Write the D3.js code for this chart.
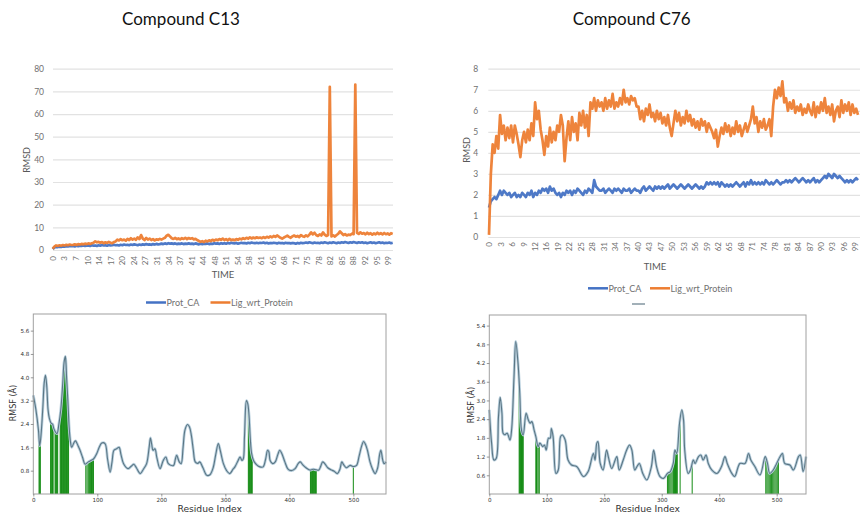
<!DOCTYPE html>
<html><head><meta charset="utf-8">
<script src="https://cdn.jsdelivr.net/npm/d3@7/dist/d3.min.js"></script>
<style>body{margin:0;background:#fff}svg{display:block}</style>
</head><body>
<svg id="c" width="860" height="512"></svg>
<script>
// ---------------- DATA ----------------
const timeStep = 0.5; // ns between samples (0..100)
const seriesNames = ["Prot_CA", "Lig_wrt_Protein"];

// Compound C13 RMSD
const c13Prot = [0.4,1.1,1.4,1.3,1.5,1.4,1.6,1.5,1.7,1.6,1.8,1.7,1.8,1.6,1.9,1.7,1.9,1.8,2.0,1.8,1.9,
 2.0,1.8,2.1,1.9,2.0,1.8,2.1,1.9,2.2,2.0,2.1,1.9,2.2,2.0,2.1,2.3,2.1,2.2,2.0,2.3,
 2.1,2.4,2.2,2.3,2.1,2.4,2.2,2.5,2.3,2.1,2.4,2.2,2.5,2.3,2.6,2.4,2.5,2.3,2.6,2.4,
 2.7,2.5,2.6,2.8,2.6,2.9,2.7,3.0,2.8,2.9,2.7,2.9,2.6,2.8,2.7,2.9,2.6,2.8,2.7,2.9,
 2.7,2.8,2.6,2.9,2.7,2.5,2.8,2.6,2.8,2.7,2.9,2.6,2.8,2.7,3.0,2.8,2.9,2.7,3.0,2.8,
 3.0,2.8,3.1,2.9,3.2,3.0,2.9,3.1,2.8,3.0,3.2,3.0,3.1,2.9,3.2,3.0,3.3,3.1,3.0,3.2,
 3.0,3.2,3.1,3.3,3.0,3.2,2.9,3.1,3.0,3.2,3.1,2.9,3.2,3.0,3.1,2.9,3.2,3.0,3.1,2.9,
 3.1,3.0,2.8,3.1,2.9,3.2,3.0,3.1,3.3,3.1,3.4,3.2,3.0,3.3,3.1,3.2,3.0,3.3,3.1,3.4,
 3.2,3.0,3.3,3.1,3.4,3.2,3.0,3.3,3.1,3.4,3.2,3.5,3.3,3.1,3.4,3.2,3.5,3.3,3.1,3.4,
 3.2,3.4,3.1,3.3,3.0,3.2,3.4,3.1,3.3,3.0,3.2,3.4,3.1,3.3,3.0,3.2,3.1,3.3,3.0,3.2];
const c13Lig = [0.5,1.5,2.0,1.8,2.1,1.9,2.2,2.0,2.3,2.1,2.4,2.2,2.3,2.5,2.2,2.6,2.4,2.7,2.5,2.8,2.6,
 2.9,2.7,3.0,3.2,3.8,3.4,3.6,3.2,3.5,3.0,3.4,3.1,3.6,3.2,3.0,3.5,3.8,4.6,4.2,4.8,
 4.3,4.6,4.1,4.9,4.4,5.2,4.6,5.0,4.5,5.6,4.8,6.6,5.0,4.4,5.3,4.6,5.0,4.4,4.8,4.2,
 4.7,4.5,4.9,4.6,5.0,5.4,6.3,6.7,6.0,5.2,4.9,5.3,4.8,5.1,4.7,5.2,4.9,5.4,4.8,5.3,
 5.0,5.2,4.7,4.9,4.4,4.0,3.6,3.9,3.5,4.1,3.8,4.3,3.9,4.5,4.1,4.6,4.3,4.8,4.5,5.0,
 4.4,4.8,4.3,4.9,4.4,4.6,4.3,4.8,4.5,5.0,4.7,5.2,4.9,5.4,5.0,5.6,5.1,5.5,5.2,5.6,
 5.3,5.5,5.2,5.7,5.3,5.8,5.5,6.0,5.6,6.2,5.8,6.4,5.9,5.4,5.0,5.5,5.9,6.3,5.8,5.4,
 6.0,6.4,5.9,6.2,5.7,6.6,6.1,5.8,6.5,6.0,6.8,7.8,6.9,7.6,6.6,6.2,6.9,6.4,7.8,6.8,
 6.2,6.6,72.0,6.0,6.5,5.9,6.6,7.2,8.2,7.4,6.6,7.0,6.4,6.8,6.6,7.2,7.0,73.0,7.6,7.1,
 7.8,7.2,7.5,6.9,7.6,7.0,7.4,6.8,7.3,6.9,7.6,7.0,7.4,6.9,7.5,7.0,7.3,6.8,7.4,7.1];
const c13YTicks = [0,10,20,30,40,50,60,70,80];
const c13XLabels = [0,3,7,10,14,17,20,24,27,31,34,37,41,44,48,51,54,58,61,65,68,71,75,78,82,85,88,92,95,99];
const c13XLabelStep = 3.4;

// Compound C76 RMSD
const c76Prot = [1.4,1.7,1.8,1.9,1.8,2.0,2.2,2.0,2.2,2.1,2.0,2.1,1.9,2.0,2.1,1.9,2.0,1.9,2.1,2.0,1.9,
 2.1,2.0,2.2,1.9,2.1,2.0,2.2,2.1,2.3,2.2,2.3,2.1,2.4,2.2,2.3,2.1,2.0,2.1,1.9,2.1,
 2.0,2.2,2.1,2.2,2.0,2.2,2.1,2.3,2.2,2.1,2.0,2.2,2.1,2.3,2.2,2.1,2.7,2.4,2.3,2.2,
 2.2,2.3,2.1,2.2,2.3,2.2,2.1,2.3,2.2,2.3,2.2,2.1,2.3,2.2,2.2,2.3,2.1,2.2,2.3,2.2,
 2.2,2.1,2.3,2.4,2.2,2.3,2.4,2.3,2.2,2.4,2.3,2.4,2.3,2.4,2.3,2.4,2.5,2.3,2.4,2.5,
 2.4,2.3,2.4,2.5,2.4,2.3,2.4,2.5,2.4,2.3,2.4,2.5,2.4,2.3,2.4,2.3,2.4,2.6,2.5,2.6,
 2.5,2.6,2.5,2.6,2.4,2.6,2.5,2.4,2.5,2.4,2.5,2.4,2.5,2.6,2.5,2.4,2.5,2.6,2.4,2.6,
 2.5,2.7,2.5,2.6,2.5,2.6,2.5,2.6,2.5,2.7,2.6,2.5,2.6,2.5,2.6,2.7,2.6,2.5,2.6,2.6,
 2.7,2.6,2.7,2.6,2.7,2.8,2.7,2.6,2.7,2.8,2.7,2.6,2.7,2.6,2.7,2.8,2.6,2.7,2.6,2.7,
 2.8,2.9,2.8,3.0,2.9,2.8,3.0,2.9,2.8,2.9,2.8,2.7,2.6,2.7,2.6,2.7,2.6,2.7,2.8,2.7];
const c76Lig = [0.1,3.0,4.4,4.0,4.8,4.2,5.8,4.9,5.3,4.6,5.2,4.7,5.3,4.5,5.3,4.9,4.4,3.8,4.6,5.0,4.5,
 5.1,4.6,5.4,4.8,6.4,5.6,6.0,5.1,4.6,3.9,4.8,4.3,5.2,4.5,5.0,4.6,5.3,5.0,5.8,5.3,
 3.6,4.7,5.5,4.6,5.7,5.0,5.4,4.6,5.9,5.3,6.0,5.2,5.8,4.8,6.4,6.1,6.6,6.0,6.5,6.2,
 6.4,6.0,6.6,6.1,6.5,6.2,6.8,6.1,6.4,6.2,6.6,6.3,7.0,6.4,6.6,6.3,6.7,6.5,6.6,6.2,
 6.2,5.6,6.0,5.5,6.1,5.8,6.3,5.7,5.9,5.5,6.0,5.6,5.9,5.4,5.7,5.3,5.8,5.2,4.8,5.4,
 6.0,5.5,5.9,5.3,5.7,5.4,6.0,5.5,5.8,5.3,5.6,5.2,5.5,5.1,5.6,5.3,5.5,5.0,5.4,5.2,
 5.0,4.7,5.1,4.3,4.8,5.2,4.9,5.4,5.0,5.3,4.8,5.2,4.9,5.5,5.0,5.3,4.8,5.1,5.4,5.0,
 5.3,5.6,6.2,5.4,5.7,5.0,5.5,5.2,5.6,5.1,5.3,5.6,4.8,6.2,7.0,6.6,7.1,6.7,7.4,6.4,
 6.6,6.0,6.4,6.1,6.5,5.9,6.2,6.0,6.3,5.8,6.1,5.9,6.3,6.0,5.8,6.4,5.7,6.2,5.9,6.4,
 6.0,6.6,5.9,6.2,5.8,6.3,5.5,6.0,6.2,5.7,6.5,5.9,6.3,6.0,6.4,5.8,6.3,5.9,6.1,5.8];
const c76YTicks = [0,1,2,3,4,5,6,7,8];
const c76XLabels = [0,3,6,9,12,16,19,22,25,28,31,34,37,40,43,47,50,53,56,59,62,65,68,71,74,78,81,84,87,90,93,96,99];
const c76XLabelStep = 3.1;

// RMSF C13
const rmsf13Res = [0,4,8,10,12,15,17,19,21,23,25,28,30,32,34,37,40,43,46,48,50,51,52,54,56,58,60,64,66,68,71,73,77,81,86,90,94,99,103,107,112,116,120,123,126,130,134,137,141,148,153,157,161,167,172,177,181,183,185,187,190,193,198,203,207,211,219,222,224,228,231,234,237,241,244,247,250,253,257,260,265,271,276,281,285,289,292,297,302,307,312,315,320,323,326,328,330,333,335,337,339,341,344,349,354,359,363,366,368,370,374,378,382,385,388,393,398,403,409,414,417,421,426,432,437,442,446,449,452,455,460,466,470,475,479,482,485,489,495,500,505,509,513,516,519,522,526,530,534,538,541,543,546,548,551];
const rmsf13Val = [3.38,2.9,2.2,1.65,2.0,3.0,3.8,4.07,3.7,2.9,2.6,2.42,2.4,2.25,2.15,2.07,2.4,2.9,3.8,4.5,4.72,4.5,4.0,3.2,2.3,1.8,1.6,1.78,1.82,1.75,1.6,1.5,1.25,1.02,1.1,1.15,1.2,1.38,1.6,1.75,1.73,1.2,0.75,1.1,1.5,1.55,1.6,1.35,1.04,0.87,0.95,1.02,0.9,0.7,0.85,1.04,1.6,1.92,1.7,1.5,1.55,1.25,0.87,1.15,1.27,1.04,0.98,1.2,1.33,1.1,1.04,1.6,2.2,2.38,2.3,2.0,1.5,1.1,1.05,1.1,0.9,0.64,0.66,0.9,1.35,1.73,1.5,1.04,0.8,0.7,0.85,0.93,1.15,1.27,1.15,1.2,2.0,3.2,3.1,2.7,1.9,1.4,1.15,1.0,0.93,0.93,1.2,1.5,1.45,1.15,1.04,1.1,1.35,1.5,1.4,1.1,0.85,0.8,0.87,1.05,1.1,1.0,0.9,0.82,0.85,0.83,0.82,0.95,1.1,1.05,0.9,0.82,0.78,0.7,0.85,1.1,1.0,0.9,0.98,0.94,0.98,1.3,1.65,1.8,1.7,1.5,1.1,0.85,0.7,0.9,1.35,1.5,1.15,1.04,1.1];
const contact13Res = [9,10,11,27,28,29,30,31,34,35,36,37,38,42,43,44,45,46,47,48,49,50,51,52,53,54,55,82,84,86,88,89,90,91,92,93,94,336,337,338,339,340,341,342,433,434,435,436,437,438,439,440,441,442,500];
const contact13Val = [1.9,1.65,1.8,2.4,2.42,2.4,2.35,2.3,2.15,2.12,2.1,2.07,2.1,2.8,2.9,3.2,3.5,3.8,4.2,4.5,4.65,4.72,4.5,4.0,3.6,3.2,2.8,1.0,1.05,1.1,1.12,1.13,1.15,1.16,1.17,1.18,1.2,3.0,2.8,2.4,1.9,1.65,1.4,1.3,0.82,0.83,0.84,0.85,0.85,0.85,0.84,0.83,0.83,0.83,0.94];
const rmsf13YTicks = [0.8,1.6,2.4,3.2,4.0,4.8,5.6];

// RMSF C76
const rmsf76Res = [0,4,8,12,16,19,22,24,27,31,36,39,43,46,50,53,56,59,64,68,71,74,78,81,85,88,93,96,99,103,106,108,111,116,120,124,127,132,137,143,152,164,172,181,184,187,189,193,198,204,207,213,219,222,226,233,239,244,248,253,257,261,267,274,282,286,291,297,303,310,315,320,323,326,331,335,338,340,346,350,355,358,364,368,372,377,381,387,396,404,410,414,422,427,436,445,451,455,462,471,480,484,488,494,500,506,510,514,523,529,538,541,546,551];
const rmsf76Val = [2.7,1.63,1.09,1.14,2.48,3.1,2.59,1.95,1.9,1.95,1.73,2.1,3.76,4.89,4.19,3.23,2.05,1.89,2.59,2.37,2.27,2.32,2.05,1.84,1.52,1.63,1.52,1.57,1.41,1.79,1.79,2.1,1.84,0.66,0.77,1.84,1.89,1.73,1.09,0.93,0.88,0.56,0.72,1.3,1.09,1.63,1.68,0.98,0.77,1.41,1.2,0.82,1.09,1.2,0.77,1.09,1.41,1.57,1.41,0.77,0.88,0.98,0.66,0.45,0.88,1.41,0.88,0.56,0.5,0.66,0.72,0.98,1.41,1.3,2.27,2.7,2.37,1.41,0.66,0.77,1.09,0.98,1.2,1.25,1.09,1.25,0.98,0.77,0.66,0.88,1.2,0.98,0.66,0.56,0.98,0.98,1.3,1.09,0.88,0.61,1.2,0.98,0.66,0.77,0.98,1.2,1.3,0.98,0.93,0.77,1.2,1.25,0.72,1.2];
const contact76Res = [52,53,54,55,56,57,58,59,81,82,83,85,87,310,312,314,316,318,320,321,322,323,324,325,326,327,332,353,481,483,485,487,489,491,493,495,497,499,501,503];
const contact76Val = [3.6,3.23,2.8,2.4,2.05,1.95,1.9,1.89,1.84,1.78,1.7,1.52,1.6,0.66,0.68,0.7,0.74,0.85,0.98,1.1,1.25,1.41,1.38,1.33,1.3,1.45,2.4,1.0,1.15,1.0,0.85,0.7,0.66,0.7,0.74,0.78,0.86,0.95,1.0,1.1];
const rmsf76YTicks = [0.6,1.2,1.8,2.4,3.0,3.6,4.2,4.8,5.4];
const residueTicks = [0,100,200,300,400,500];

// ---------------- DRAW ----------------
const svg = d3.select("#c");
const COLORS = {"Prot_CA":"#4472c4","Lig_wrt_Protein":"#ed7d31"};
const XLFONT = "Lato, 'Open Sans', sans-serif";

function rmsdPanel(cfg){
  const g = svg.append("g");
  const x = d3.scaleLinear().domain([0,100]).range([cfg.x0, cfg.x100]);
  const y = d3.scaleLinear().domain([0, d3.max(cfg.yTicks)]).range([cfg.y0, cfg.yTop]);
  g.append("text").attr("x", cfg.titleX).attr("y", 25).attr("text-anchor","middle")
    .attr("font-family", XLFONT).attr("font-size", 17).attr("fill","#111").text(cfg.title);
  const ya = g.append("g").attr("transform", `translate(${cfg.gx0},0)`)
    .call(d3.axisLeft(y).tickValues(cfg.yTicks).tickSize(-(cfg.gx1-cfg.gx0)).tickPadding(cfg.yPad).tickFormat(d3.format("d")));
  ya.select(".domain").remove();
  ya.selectAll("line").attr("stroke","#e2e2e2").attr("stroke-width",1.2);
  ya.selectAll("text").attr("font-family", XLFONT).attr("font-size", 8.5).attr("fill","#707070");
  const tv = cfg.xLabels.map((d,i)=>i*cfg.xStep);
  const xa = g.append("g").attr("transform", `translate(0,${cfg.y0})`)
    .call(d3.axisBottom(x).tickValues(tv).tickSize(0).tickFormat((d,i)=>cfg.xLabels[i]));
  xa.select(".domain").remove();
  xa.selectAll("text").attr("font-family", XLFONT).attr("font-size", 8).attr("fill","#707070")
    .attr("transform","rotate(-90)").attr("text-anchor","end").attr("x", -cfg.xPad).attr("y",0).attr("dy","0.34em");
  const line = d3.line().x((d,i)=>x(i*timeStep)).y(d=>y(d));
  [["Prot_CA",cfg.prot],["Lig_wrt_Protein",cfg.lig]].forEach(([n,data])=>{
    g.append("path").datum(data).attr("d", line).attr("fill","none")
      .attr("stroke", COLORS[n]).attr("stroke-width", 2.7).attr("stroke-linejoin","round").attr("stroke-opacity",0.95);
  });
  g.append("text").attr("x", cfg.timeX).attr("y", cfg.timeY).attr("text-anchor","middle")
    .attr("font-family", XLFONT).attr("font-size", 9.5).attr("fill","#595959").text("TIME");
  g.append("text").attr("transform", `translate(${cfg.rmsdX},${cfg.rmsdY}) rotate(-90)`).attr("text-anchor","middle")
    .attr("font-family", XLFONT).attr("font-size", 9).attr("fill","#595959").text("RMSD");
  const lg = g.selectAll(".lg").data(seriesNames).join("g").attr("transform",(d,i)=>`translate(${cfg.legX[i]},${cfg.legY})`);
  lg.append("line").attr("x1",0).attr("x2",20).attr("stroke",d=>COLORS[d]).attr("stroke-width",2.5);
  lg.append("text").attr("x",20.5).attr("y",3.2).attr("font-family", XLFONT).attr("font-size",9).attr("fill","#707070").text(d=>d);
}

rmsdPanel({title:"Compound C13", titleX:181, x0:52.7, x100:392.7, gx0:53, gx1:393, y0:250, yTop:68.7,
  yTicks:c13YTicks, yPad:9, xLabels:c13XLabels, xStep:c13XLabelStep, xPad:6, prot:c13Prot, lig:c13Lig,
  timeX:223, timeY:278, rmsdX:30, rmsdY:160, legX:[146,210.5], legY:302.5});
rmsdPanel({title:"Compound C76", titleX:631.7, x0:489, x100:858, gx0:488.3, gx1:860, y0:237, yTop:68.7,
  yTicks:c76YTicks, yPad:10, xLabels:c76XLabels, xStep:c76XLabelStep, xPad:5, prot:c76Prot, lig:c76Lig,
  timeX:655, timeY:270, rmsdX:470, rmsdY:150, legX:[588,650], legY:288.3});
svg.append("line").attr("x1",632).attr("x2",645).attr("y1",304).attr("y2",304).attr("stroke","#5a7482").attr("stroke-width",1.6).attr("opacity",0.7);

const MPFONT = "'DejaVu Sans', sans-serif";
function rmsfPanel(cfg){
  const g = svg.append("g");
  const x = d3.scaleLinear().domain([0,551]).range([cfg.x0, cfg.x1]);
  const y = d3.scaleLinear().domain([0, cfg.ymax]).range([cfg.y0, cfg.yTop]);
  g.selectAll(".bar").data(cfg.cRes).join("line")
    .attr("x1",d=>x(d)).attr("x2",d=>x(d)).attr("y1",y(0)).attr("y2",(d,i)=>y(cfg.cVal[i]))
    .attr("stroke","#0f8a0f").attr("stroke-width",1.1).attr("stroke-opacity",0.9);
  const pts = cfg.res.map((r,i)=>[r,cfg.val[i]]);
  const line = d3.line().x(d=>x(d[0])).y(d=>y(d[1])).curve(d3.curveCatmullRom.alpha(0.5));
  g.append("path").datum(pts).attr("d",line).attr("fill","none").attr("stroke","#b9d0de").attr("stroke-width",2.8);
  g.append("path").datum(pts).attr("d",line).attr("fill","none").attr("stroke","#5b7684").attr("stroke-width",1.1);
  g.append("rect").attr("x",cfg.x0).attr("y",cfg.yTop).attr("width",cfg.x1-cfg.x0).attr("height",cfg.y0-cfg.yTop)
    .attr("fill","none").attr("stroke","#a0a0a0").attr("stroke-width",1);
  const ya = g.append("g").attr("transform",`translate(${cfg.x0},0)`)
    .call(d3.axisLeft(y).tickValues(cfg.yTicks).tickSize(2.5).tickPadding(1.5).tickFormat(d3.format(".1f")));
  ya.select(".domain").remove();
  ya.selectAll("line").attr("stroke","#555").attr("stroke-width",0.6);
  ya.selectAll("text").attr("font-family",MPFONT).attr("font-size",5.6).attr("fill","#333");
  const xa = g.append("g").attr("transform",`translate(0,${cfg.y0})`)
    .call(d3.axisBottom(x).tickValues(residueTicks).tickSize(2.5).tickPadding(1.5).tickFormat(d3.format("d")));
  xa.select(".domain").remove();
  xa.selectAll("line").attr("stroke","#555").attr("stroke-width",0.6);
  xa.selectAll("text").attr("font-family",MPFONT).attr("font-size",5.6).attr("fill","#333");
  g.append("text").attr("x",(cfg.x0+cfg.x1)/2).attr("y",511.5).attr("text-anchor","middle")
    .attr("font-family",MPFONT).attr("font-size",9.2).attr("fill","#333").text("Residue Index");
  g.append("text").attr("transform",`translate(${cfg.rx},${cfg.ry}) rotate(-90)`).attr("text-anchor","middle")
    .attr("font-family",MPFONT).attr("font-size",8).attr("fill","#333").text("RMSF (Å)");
}
rmsfPanel({x0:33.3, x1:386, y0:494, yTop:314, ymax:6.17, yTicks:rmsf13YTicks, res:rmsf13Res, val:rmsf13Val,
  cRes:contact13Res, cVal:contact13Val, rx:16, ry:403});
rmsfPanel({x0:489.3, x1:806, y0:494, yTop:315, ymax:5.74, yTicks:rmsf76YTicks, res:rmsf76Res, val:rmsf76Val,
  cRes:contact76Res, cVal:contact76Val, rx:474, ry:405});
</script>
</body></html>
